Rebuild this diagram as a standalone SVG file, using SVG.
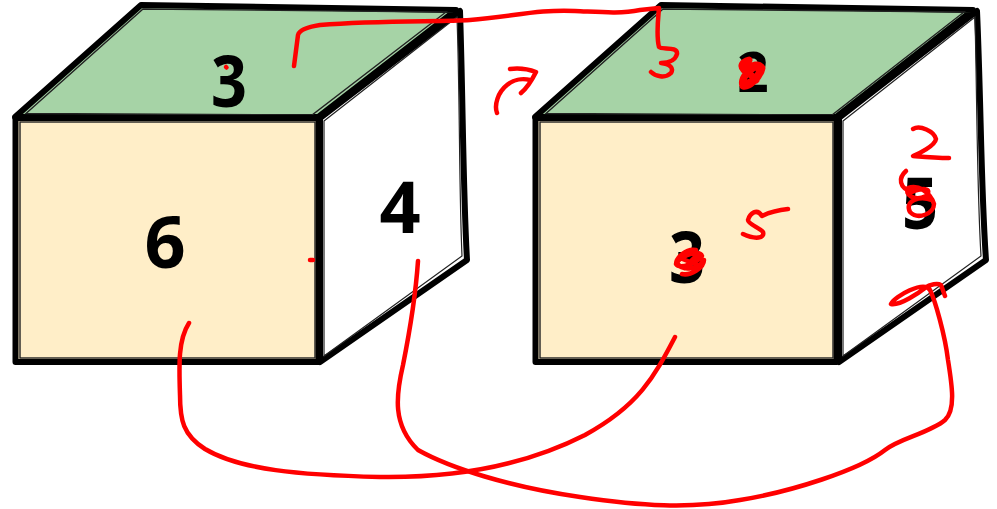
<svg xmlns="http://www.w3.org/2000/svg" width="997" height="509" viewBox="0 0 997 509">
<style>
.outer{stroke:#000;stroke-width:6;stroke-linejoin:round;stroke-linecap:round;fill:none}
.inner{stroke:#222;stroke-width:1.4;stroke-linejoin:miter;fill:none}
.top{fill:#a6d3a6}
.front{fill:#ffeec8}
.side{fill:#fff}
.num{font-family:"Noto Sans","Open Sans",sans-serif;font-weight:700;font-size:72px;fill:#000;text-anchor:middle}
.ink{fill:none;stroke:#f00;stroke-width:4.500;stroke-linecap:round;stroke-linejoin:round}
</style>
<rect width="997" height="509" fill="#fff"/>
<g id="cube-left">
<g id="cube-left-top">
<path class="outer top" d="M15 117L141 5L456 10L318 117Z"/>
<path class="inner" d="M26 113.500L143 9L446 12L312 115Z"/>
<text class="num" x="229" y="107" textLength="36" lengthAdjust="spacingAndGlyphs">3</text>
</g>
<g id="cube-left-front">
<rect class="outer front" x="15.500" y="118" width="303" height="244"/>
<rect class="inner" x="20" y="122" width="295" height="236"/>
<text class="num" x="165" y="268">6</text>
</g>
<g id="cube-left-side">
<path class="outer side" d="M320 118L460 11C463 100 463 190 467 260L320 362Z"/>
<path fill="none" stroke="#222" stroke-width="1.200" d="M324 121L457 17C460 100 459 190 462 256L324 356Z"/>
<text class="num" x="400" y="233">4</text>
</g>
</g>
<g id="cube-right">
<g id="cube-right-top">
<path class="outer top" d="M535 117L661 5L973 10L836 117Z"/>
<path class="inner" d="M546 113.500L663 9L964 12L832 115Z"/>
<text class="num" style="font-size:55px" x="753" y="92">2</text>
</g>
<g id="cube-right-front">
<rect class="outer front" x="535.500" y="118" width="301" height="244"/>
<rect class="inner" x="540" y="122" width="293" height="236"/>
<text class="num" x="687" y="283" textLength="36" lengthAdjust="spacingAndGlyphs">3</text>
</g>
<g id="cube-right-side">
<path class="outer side" d="M839 118L977 11C981 100 981 190 986 260L839 362Z"/>
<path fill="none" stroke="#222" stroke-width="1.200" d="M843 121L975 17C977 100 977 190 981 256L843 356Z"/>
<text class="num" x="920" y="229" textLength="36" lengthAdjust="spacingAndGlyphs">5</text>
</g>
</g>
<g id="connectors">
<path class="ink" d="M294 66L298 35Q300 28 320 25C380 20 440 22 470 20C510 17 540 9 575 11C600 12 620 14 640 10L659 8C658 20 656 35 659 47C662 50 678 46 677 54C675 62 665 63 661 63C670 64 674 68 671 73C665 79 655 76 651 72"/>
<path class="ink" d="M497 113C494 105 498 92 507 85C513 80 522 78 530 80M510 69C518 68 528 69 536 72C532 80 527 88 521 93"/>
<path class="ink" d="M189 323C178 340 179 365 180 395C180 420 183 435 205 449C240 470 300 475 380 477C450 478 520 468 585 435C640 405 655 375 675 337"/>
<path class="ink" d="M418 261C416 290 410 330 403 365C396 395 392 425 418 450C450 468 510 487 580 497C640 506 690 509 740 500C790 492 860 470 885 450C900 438 930 433 945 420C956 410 952 385 948 360C945 335 935 300 930 290C924 280 895 296 891 304C900 306 920 292 925 288C930 284 938 283 941 285L945 296"/>
<path class="ink" d="M913 129C920 125 934 131 936 139C935 146 918 154 913 156C925 157 936 158 949 158"/>
<path class="ink" d="M788 209C778 210 770 212 762 216C757 208 750 213 748 220C748 224 760 228 763 232C765 238 756 240 743 234"/>
<path class="ink" d="M906 171C898 178 899 188 912 192C926 186 932 190 926 196C914 202 904 194 908 188C918 184 930 192 934 204C934 214 918 220 910 212C904 200 920 196 932 200"/>
<path class="ink" d="M696 250C686 248 676 258 676 264C680 270 698 262 702 256C700 250 684 254 677 262C680 272 698 270 704 260C704 268 690 276 682 274M680 258L700 266M684 268L698 254"/>
<path class="ink" style="stroke-width:7" d="M749 60C742 62 740 66 744 70C752 66 758 62 762 68C760 78 748 88 743 86C740 78 750 68 758 66M745 84C752 82 760 76 760 68M748 72L756 80"/>
<path class="ink" d="M226 67L226.500 67.500"/>
<path class="ink" d="M310 260L313 260"/>
</g>
</svg>
